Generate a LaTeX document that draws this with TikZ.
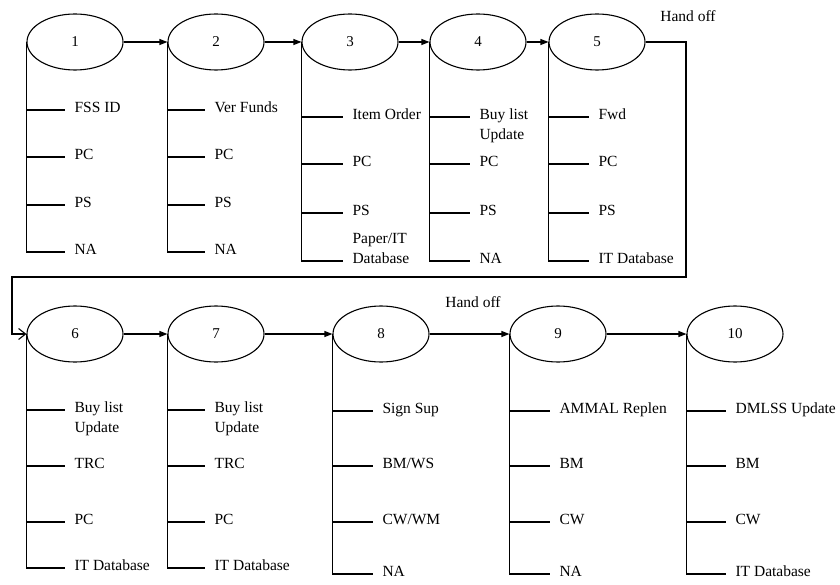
\documentclass[tikz,border=0pt]{standalone}
\usepackage{fontspec}
\setmainfont{Liberation Serif}
\usetikzlibrary{shapes.geometric,arrows.meta}
\newcommand{\uptwo}[2]{\begin{tabular}[t]{@{}l@{}}#1\\#2\end{tabular}}
\newcommand{\downtwo}[2]{\begin{tabular}[b]{@{}l@{}}#1\\#2\end{tabular}}

\begin{document}
\begin{tikzpicture}[x=1pt,y=-1pt,line width=1.1pt,
	stage/.style={draw,ellipse,minimum width=96pt,minimum height=56pt,inner sep=0pt,font=\fontsize{15}{18}\selectfont},
	item/.style={anchor=mid west,inner xsep=9pt,inner ysep=0pt,font=\fontsize{15.5}{20}\selectfont},
	flow/.style={-{Triangle[length=8pt,width=6pt]}},
	handoff/.style={-{Straight Barb[length=7pt,width=11pt]}}]
			\useasboundingbox (0,0) rectangle (840,585);
			% stages, first row
			\node[stage] (s1) at (75,42) {1};
			\node[stage] (s2) at (216,42) {2};
			\node[stage] (s3) at (350,42) {3};
			\node[stage] (s4) at (478,42) {4};
			\node[stage] (s5) at (597,42) {5};
			% stages, second row
			\node[stage] (s6) at (75,334) {6};
			\node[stage] (s7) at (216,334) {7};
			\node[stage] (s8) at (381,334) {8};
			\node[stage] (s9) at (558,334) {9};
			\node[stage] (s10) at (735,334) {10};
			% items
			\node[item] (s1a) at (65,110) {FSS ID};
			\node[item] (s1b) at (65,157) {PC};
			\node[item] (s1c) at (65,205) {PS};
			\node[item] (s1d) at (65,252) {NA};
			\node[item] (s2a) at (205,110) {Ver Funds};
			\node[item] (s2b) at (205,157) {PC};
			\node[item] (s2c) at (205,205) {PS};
			\node[item] (s2d) at (205,252) {NA};
			\node[item] (s3a) at (343,117) {Item Order};
			\node[item] (s3b) at (343,164) {PC};
			\node[item] (s3c) at (343,213) {PS};
			\node[item] (s3d) at (343,261) {\downtwo{Paper/IT}{Database}};
			\node[item] (s4a) at (470,117) {\uptwo{Buy list}{Update}};
			\node[item] (s4b) at (470,164) {PC};
			\node[item] (s4c) at (470,213) {PS};
			\node[item] (s4d) at (470,261) {NA};
			\node[item] (s5a) at (589,117) {Fwd};
			\node[item] (s5b) at (589,164) {PC};
			\node[item] (s5c) at (589,213) {PS};
			\node[item] (s5d) at (589,261) {IT Database};
			\node[item] (s6a) at (65,410) {\uptwo{Buy list}{Update}};
			\node[item] (s6b) at (65,466) {TRC};
			\node[item] (s6c) at (65,522) {PC};
			\node[item] (s6d) at (65,568) {IT Database};
			\node[item] (s7a) at (205,410) {\uptwo{Buy list}{Update}};
			\node[item] (s7b) at (205,466) {TRC};
			\node[item] (s7c) at (205,522) {PC};
			\node[item] (s7d) at (205,568) {IT Database};
			\node[item] (s8a) at (373,411) {Sign Sup};
			\node[item] (s8b) at (373,466) {BM/WS};
			\node[item] (s8c) at (373,522) {CW/WM};
			\node[item] (s8d) at (373,574) {NA};
			\node[item] (s9a) at (550,411) {AMMAL Replen};
			\node[item] (s9b) at (550,466) {BM};
			\node[item] (s9c) at (550,522) {CW};
			\node[item] (s9d) at (550,574) {NA};
			\node[item] (s10a) at (726,411) {DMLSS Update};
			\node[item] (s10b) at (726,466) {BM};
			\node[item] (s10c) at (726,522) {CW};
			\node[item] (s10d) at (726,574) {IT Database};
			% spines and branches
			\foreach \s in {1,...,10} {
				\draw (s\s.west) |- (s\s d.mid west);
				\foreach \b in {a,b,c}
					\draw (s\s.west |- s\s\b.mid west) -- (s\s\b.mid west);
			}
			% flow
			\draw[flow] (s1) -- (s2);
			\draw[flow] (s2) -- (s3);
			\draw[flow] (s3) -- (s4);
			\draw[flow] (s4) -- (s5);
			\draw[flow] (s6) -- (s7);
			\draw[flow] (s7) -- (s8);
			\draw[flow] (s8) -- (s9);
			\draw[flow] (s9) -- (s10);
			% hand off
			\coordinate (hr) at (686,277);
			\coordinate (hl) at (12,277);
			\draw[handoff] (s5.east) -| (hr) -- (hl) |- (s6.west);
			\node[font=\fontsize{15.5}{20}\selectfont] (h1) at (688,16) {Hand off};
			\node[font=\fontsize{15.5}{20}\selectfont] (h2) at (473,302) {Hand off};
		\end{tikzpicture}
\end{document}
